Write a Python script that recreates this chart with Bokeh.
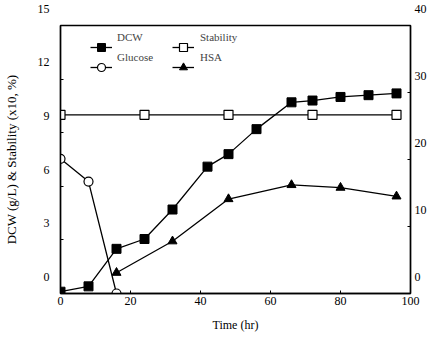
import math
from bokeh.plotting import figure
from bokeh.models import Range1d, LinearAxis, Legend, LegendItem, FixedTicker, Label
from bokeh.embed import file_html
from bokeh.resources import INLINE

# ---- data ----
time_dcw = [0, 8, 16, 24, 32, 42, 48, 56, 66, 72, 80, 88, 96]
dcw = [0.1, 0.4, 2.5, 3.05, 4.7, 7.1, 7.8, 9.2, 10.7, 10.8, 11.0, 11.1, 11.2]
time_stab = [0, 24, 48, 72, 96]
stability = [10.0, 10.0, 10.0, 10.0, 10.0]
time_glc = [0, 8, 16]
glucose = [20.1, 16.7, 0.0]
time_hsa = [16, 32, 48, 66, 80, 96]
hsa = [3.1, 7.8, 14.1, 16.2, 15.8, 14.5]
x_ticks = [0, 20, 40, 60, 80, 100]
left_ticks = [0, 3, 6, 9, 12, 15]
right_ticks = [0, 10, 20, 30, 40]
series_names = ["DCW", "Glucose", "Stability", "HSA"]

FONT = "Liberation Serif"

p = figure(width=429, height=338, output_backend="svg", toolbar_location=None,
           x_range=Range1d(0, 100), y_range=Range1d(0, 15),
           min_border_left=60, min_border_right=18, min_border_top=25,
           min_border_bottom=45)
p.extra_y_ranges = {"right": Range1d(0, 40)}
p.grid.visible = False
p.outline_line_color = "black"
p.outline_line_width = 1.4
p.background_fill_color = "white"
p.border_fill_color = "white"

raxis = LinearAxis(y_range_name="right")
p.add_layout(raxis, "right")


def style_axis(ax, ticks):
    ax.ticker = FixedTicker(ticks=ticks)
    ax.axis_line_color = "black"
    ax.axis_line_width = 1.4
    ax.major_tick_in = 3
    ax.major_tick_out = 0
    ax.major_tick_line_color = "black"
    ax.minor_tick_line_color = None
    ax.major_label_text_font = FONT
    ax.major_label_text_font_size = "12px"
    ax.major_label_text_color = "black"
    ax.axis_label_text_font = FONT
    ax.axis_label_text_font_style = "normal"
    ax.axis_label_text_color = "black"


xa = p.xaxis[0]
style_axis(xa, x_ticks)
xa.axis_label = "Time (hr)"
xa.axis_label_text_font_size = "12px"
xa.major_label_standoff = 3
xa.axis_label_standoff = 10

ya = p.yaxis[0]
style_axis(ya, left_ticks)
ya.axis_label = "DCW (g/L) & Stability (x10, %)"
ya.axis_label_text_font_size = "13px"
ya.major_label_standoff = 11
ya.axis_label_standoff = 16
# the printed tick numbers sit about one line above their ticks
ya.major_label_overrides = {t: f"{t}\n\n" for t in left_ticks}

style_axis(raxis, right_ticks)
raxis.major_label_standoff = 4
raxis.major_label_overrides = {t: f"{t}\n\n" for t in right_ticks}

p.add_layout(Label(x=363, y=134, x_units="screen", y_units="screen",
                   text="Glucose (g/L) & HSA (mg/L)", angle=math.pi / 2,
                   text_align="center", text_baseline="middle",
                   text_font=FONT, text_font_size="8px",
                   text_color="#b4b4b4"))

LW = 1.3
l_dcw = p.line(time_dcw, dcw, line_color="black", line_width=LW)
s_dcw = p.scatter(time_dcw, dcw, marker="square", size=9,
                  fill_color="black", line_color="black")
l_stab = p.line(time_stab, stability, line_color="black", line_width=LW)
s_stab = p.scatter(time_stab, stability, marker="square", size=9,
                   fill_color="white", line_color="black", line_width=1.2)
l_glc = p.line(time_glc, glucose, line_color="black", line_width=LW,
               y_range_name="right")
s_glc = p.scatter(time_glc, glucose, marker="circle", size=9,
                  fill_color="white", line_color="black", line_width=1.2,
                  y_range_name="right")
l_hsa = p.line(time_hsa, hsa, line_color="black", line_width=LW,
               y_range_name="right")
s_hsa = p.scatter(time_hsa, hsa, marker="triangle", size=9,
                  fill_color="black", line_color="black",
                  y_range_name="right")

rend = [[l_dcw, s_dcw], [l_glc, s_glc], [l_stab, s_stab], [l_hsa, s_hsa]]

# legend symbols
leg_sym = Legend(items=[LegendItem(label=" ", renderers=r) for r in rend],
                 ncols=2, orientation="vertical", location=(30, 216))
leg_sym.background_fill_alpha = 0
leg_sym.border_line_color = None
leg_sym.label_text_font_size = "11px"
leg_sym.label_standoff = 0
leg_sym.label_width = 60
leg_sym.label_height = 20
leg_sym.glyph_width = 22
leg_sym.glyph_height = 20
leg_sym.spacing = 0
leg_sym.padding = 0
leg_sym.margin = 0
p.add_layout(leg_sym)

# legend texts (printed slightly above their symbols)
leg_txt = Legend(items=[LegendItem(label=n, renderers=r)
                        for n, r in zip(series_names, rend)],
                 ncols=2, orientation="vertical", location=(57, 226))
leg_txt.background_fill_alpha = 0
leg_txt.border_line_color = None
leg_txt.label_text_font = FONT
leg_txt.label_text_font_size = "11px"
leg_txt.label_standoff = 0
leg_txt.label_width = 83
leg_txt.label_height = 20
leg_txt.glyph_width = 0
leg_txt.glyph_height = 20
leg_txt.spacing = 0
leg_txt.padding = 0
leg_txt.margin = 0
p.add_layout(leg_txt)

open("out.html", "w").write(file_html(p, INLINE))
